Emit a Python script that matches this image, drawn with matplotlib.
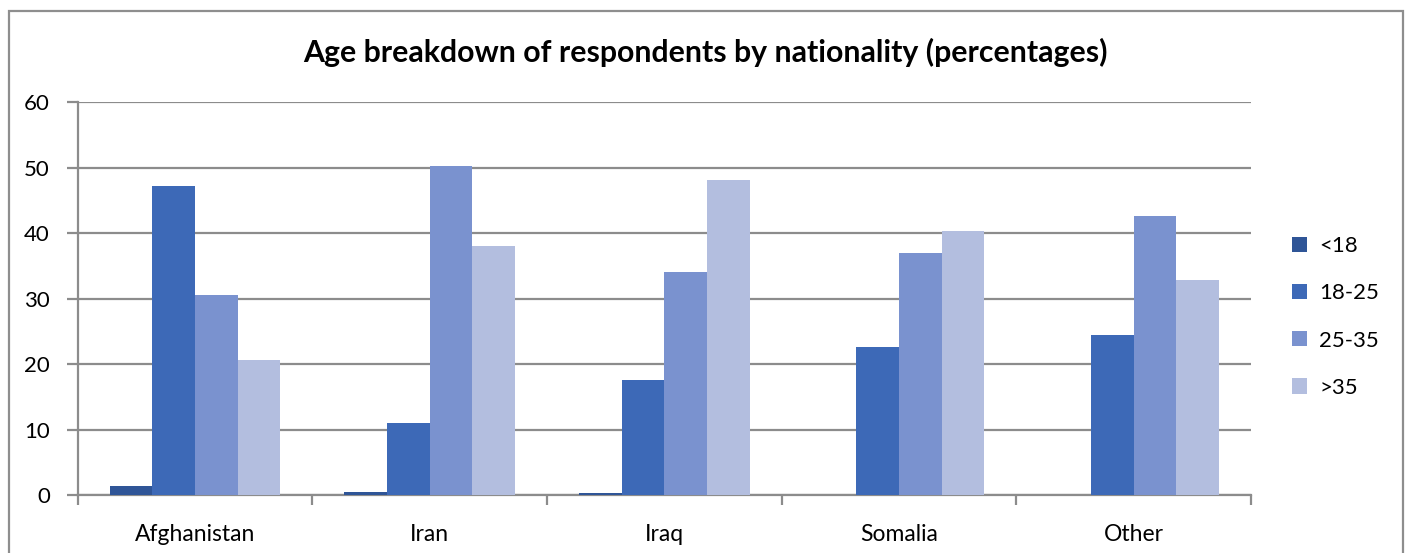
import numpy as np
import matplotlib
matplotlib.use('Agg')
import matplotlib.pyplot as plt
from matplotlib.patches import Rectangle

# %% data
countries = ["Afghanistan", "Iran", "Iraq", "Somalia", "Other"]
age_groups = ["<18", "18-25", "25-35", ">35"]
under_18 = [1.3, 0.4, 0.3, 0.0, 0.0]
age_18_25 = [47.2, 11.0, 17.5, 22.6, 24.4]
age_25_35 = [30.5, 50.2, 34.1, 36.9, 42.6]
over_35 = [20.7, 38.1, 48.1, 40.4, 32.9]
y_ticks = [0, 10, 20, 30, 40, 50, 60]

series = [under_18, age_18_25, age_25_35, over_35]
colors = ["#2F5597", "#3D69B7", "#7A92CF", "#B3BEDF"]
grid_c = "#8C8C8C"

plt.rcParams['font.family'] = ['Lato', 'DejaVu Sans']

# %% figure
W, H = 1410, 553
fig = plt.figure(figsize=(W/100, H/100), dpi=100)
# outer chart border (bottom edge runs off the image)
fig.patches.append(Rectangle((8.5/W, -0.05), (1402.5-8.5)/W, 1.05 - 10.5/H,
                             transform=fig.transFigure, fill=False,
                             ec="#8E8E8E", lw=1.6))

ax = fig.add_axes([77.7/W, 1 - 495/H, (1251-77.7)/W, (495-102.3)/H])

x = np.arange(len(countries))
bw = 1/5.5   # excel gap width 150%
for i, (vals, lab) in enumerate(zip(series, age_groups)):
    ax.bar(x + (i - 1.5)*bw, vals, bw, color=colors[i], label=lab, zorder=3)

ax.set_xlim(-0.5, len(countries) - 0.5)
ax.set_ylim(0, 60)
ax.set_yticks(y_ticks)
ax.set_yticklabels([str(t) for t in y_ticks], fontsize=16)
ax.set_xticks(x)
ax.set_xticklabels(countries, fontsize=16.5)
ax.set_xticks(np.arange(-0.5, len(countries)), minor=True)

ax.tick_params(axis='x', which='major', length=0, pad=21)
ax.tick_params(axis='x', which='minor', length=7, width=1.6, color=grid_c)
ax.tick_params(axis='y', length=8, width=1.6, color=grid_c, pad=12)

ax.yaxis.grid(True, color=grid_c, lw=1.6, zorder=0)
for s in ['top', 'right']:
    ax.spines[s].set_visible(False)
for s in ['left', 'bottom']:
    ax.spines[s].set_color(grid_c)
    ax.spines[s].set_linewidth(1.6)

fig.text(705/W, 1 - 52/H, "Age breakdown of respondents by nationality (percentages)",
         ha='center', va='center', fontsize=21.8, fontweight='bold')

fig.legend(loc='center left', bbox_to_anchor=(1292/W, 1 - 317/H),
           frameon=False, fontsize=16, handlelength=0.68, handleheight=0.68,
           handletextpad=0.55, labelspacing=1.22, borderpad=0, borderaxespad=0)

fig.savefig("out.png", dpi=100)
